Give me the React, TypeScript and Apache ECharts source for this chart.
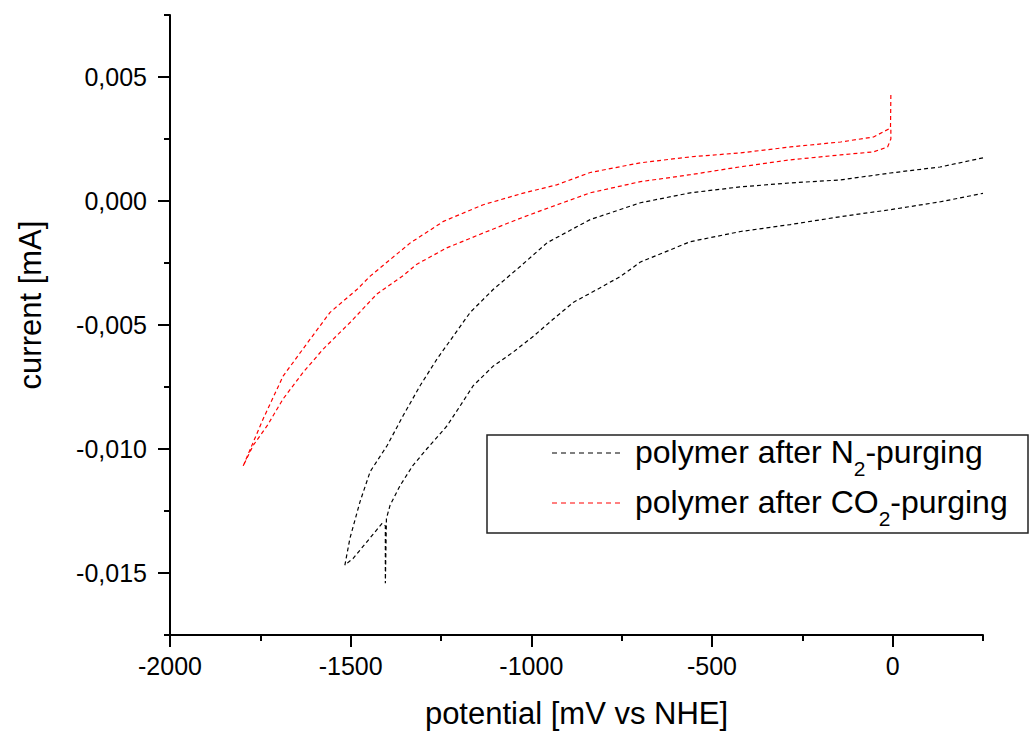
import React, { useEffect, useRef } from "react";
import * as echarts from "echarts";

const FONT = "'Liberation Sans', Arial, Helvetica, sans-serif";

// Axis ticks / label steps
const xMajorTicks = [-2000, -1500, -1000, -500, 0];
const yMajorTicks = [-0.015, -0.01, -0.005, 0, 0.005];
const xLabelStep = 500;
const yLabelStep = 0.005;

// Series names
const n2Name = "polymer after N2-purging";
const co2Name = "polymer after CO2-purging";

// Legend texts (main text / subscript / main text)
const n2LegendParts = ["polymer after N", "2", "-purging"];
const co2LegendParts = ["polymer after CO", "2", "-purging"];

// N2-purged polymer (black): potential [mV vs NHE], current [mA]
const n2Potential = [
  250, 131, -6, -144, -283, -421, -560, -698, -837, -873, -956, -1030, -1105,
  -1169, -1216, -1261, -1308, -1355, -1399, -1446, -1474, -1502, -1516,
  -1493, -1413, -1404, -1404, -1401,
  -1391, -1363, -1328, -1289, -1233, -1197, -1161, -1105, -1050, -994, -939,
  -883, -817, -753, -698, -560, -421, -283, -144, -6, 133, 250,
];
const n2Current = [
  0.00174, 0.00137, 0.00113, 0.00085, 0.00073, 0.00057, 0.00033, -0.00007,
  -0.00075, -0.00103, -0.00168, -0.00263, -0.00356, -0.00449, -0.00545,
  -0.00637, -0.00745, -0.00866, -0.00986, -0.01091, -0.01212, -0.0136,
  -0.01468,
  -0.01441, -0.013, -0.0131, -0.01541, -0.0128,
  -0.01227, -0.01147, -0.01067, -0.00999, -0.00906, -0.00826, -0.00745,
  -0.00665, -0.00609, -0.00545, -0.00476, -0.00408, -0.00356, -0.00304,
  -0.00246, -0.00164, -0.00123, -0.00095, -0.00063, -0.00035, -0.00003,
  0.00031,
];

// CO2-purged polymer (red)
const co2Potential = [
  -5, -6, -53, -144, -283, -421, -560, -698, -837, -930, -1022, -1133, -1243,
  -1335, -1446, -1482, -1557, -1612, -1687, -1742, -1798,
  -1770, -1731, -1687, -1631, -1576, -1501, -1428, -1354, -1318, -1234, -1133,
  -1040, -981, -837, -698, -560, -421, -283, -144, -53, -14, -5, -5,
];
const co2Current = [
  0.00427, 0.00294, 0.00258, 0.00238, 0.00218, 0.00194, 0.00178, 0.00154,
  0.00115, 0.00065, 0.00032, -0.00015, -0.00082, -0.00169, -0.00303,
  -0.00356, -0.00449, -0.00557, -0.00706, -0.00878, -0.0107,
  -0.00986, -0.00906, -0.00798, -0.0069, -0.00597, -0.00489, -0.00376,
  -0.003, -0.00256, -0.00189, -0.00129, -0.00075, -0.00043, 0.00033, 0.00078,
  0.00106, 0.00138, 0.00166, 0.00186, 0.00198, 0.00218, 0.0025, 0.00294,
];

const zip = (xs: number[], ys: number[]) => xs.map((x, i) => [x, ys[i]]);
const isStep = (v: number, step: number) =>
  Math.abs(v / step - Math.round(v / step)) < 1e-4;

export default function App() {
  const ref = useRef<HTMLDivElement>(null);

  useEffect(() => {
    if (!ref.current) return;
    document.body.style.margin = "0";
    const chart = echarts.init(ref.current, undefined, { renderer: "svg" });

    const ctx = document.createElement("canvas").getContext("2d");
    const measure = (t: string, size: number) => {
      if (!ctx) return t.length * size * 0.55;
      ctx.font = `${size}px "Liberation Sans", Arial, sans-serif`;
      return ctx.measureText(t).width;
    };

    // Legend layout (graphic)
    const boxX = 487;
    const boxY = 435;
    const boxW = 541;
    const boxH = 98;
    const sampleX1 = 552;
    const sampleX2 = 622;
    const textX = 635;
    const mainSize = 32;
    const subSize = 21;
    const rows = [
      { parts: n2LegendParts, color: "#000000", y: 452 },
      { parts: co2LegendParts, color: "#ff0000", y: 502 },
    ];
    const legendChildren: any[] = [
      {
        type: "rect",
        shape: { x: boxX, y: boxY, width: boxW, height: boxH },
        style: { fill: "#fff", stroke: "#222", lineWidth: 1.5 },
      },
    ];
    rows.forEach((row) => {
      legendChildren.push({
        type: "line",
        shape: { x1: sampleX1, y1: row.y + 1, x2: sampleX2, y2: row.y + 1 },
        style: { stroke: row.color, lineWidth: 1.2, lineDash: [5, 4] },
      });
      let x = textX;
      row.parts.forEach((t, i) => {
        const isSub = i === 1;
        const size = isSub ? subSize : mainSize;
        legendChildren.push({
          type: "text",
          x,
          y: isSub ? row.y + 16 : row.y,
          style: {
            text: t,
            fontSize: size,
            fontFamily: FONT,
            fill: "#000",
            align: "left",
            verticalAlign: "middle",
            textAlign: "left",
            textVerticalAlign: "middle",
          },
        });
        x += measure(t, size);
      });
    });

    const mkAxisLine = () => ({
      show: true,
      onZero: false,
      lineStyle: { color: "#000", width: 2 },
    });
    const mkTick = (len: number) => ({
      show: true,
      inside: false,
      length: len,
      lineStyle: { color: "#000", width: 2 },
    });

    chart.setOption({
      animation: false,
      backgroundColor: "#fff",
      grid: { left: 170, right: 49, top: 15, bottom: 97, containLabel: false },
      xAxis: {
        type: "value",
        min: -2000,
        max: 250.01,
        interval: 500,
        name: "potential [mV vs NHE]",
        nameLocation: "middle",
        nameGap: 63,
        nameTextStyle: { fontFamily: FONT, fontSize: 31, color: "#000" },
        axisLine: mkAxisLine(),
        splitLine: { show: false },
        minorSplitLine: { show: false },
        axisTick: { ...mkTick(12), customValues: xMajorTicks },
        minorTick: { ...mkTick(6), splitNumber: 2 },
        axisLabel: {
          margin: 18,
          fontFamily: FONT,
          fontSize: 25,
          color: "#000",
          showMaxLabel: false,
          formatter: (v: number) =>
            isStep(v, xLabelStep) ? String(Math.round(v)) : "",
        },
      },
      yAxis: {
        type: "value",
        min: -0.01750001,
        max: 0.00750001,
        splitNumber: 5,
        name: "current [mA]",
        nameLocation: "middle",
        nameGap: 124,
        nameTextStyle: {
          fontFamily: FONT,
          fontSize: 31,
          color: "#000",
          padding: [0, 0, 0, 40],
        },
        axisLine: mkAxisLine(),
        splitLine: { show: false },
        minorSplitLine: { show: false },
        axisTick: { ...mkTick(12), customValues: yMajorTicks },
        minorTick: { ...mkTick(6), splitNumber: 2 },
        axisLabel: {
          margin: 23,
          fontFamily: FONT,
          fontSize: 25,
          color: "#000",
          showMinLabel: false,
          showMaxLabel: false,
          formatter: (v: number) => {
            if (!isStep(v, yLabelStep)) return "";
            const s = (Math.abs(v) < 1e-9 ? 0 : v).toFixed(3);
            return s.replace(".", ",");
          },
        },
      },
      graphic: [{ type: "group", z: 100, children: legendChildren }],
      series: [
        {
          name: n2Name,
          type: "line",
          color: "#000",
          data: zip(n2Potential, n2Current),
          symbol: "none",
          showSymbol: false,
          smooth: false,
          lineStyle: { color: "#000", width: 1.2, type: [4, 3] },
          itemStyle: { color: "#000" },
        },
        {
          name: co2Name,
          type: "line",
          color: "#ff0000",
          data: zip(co2Potential, co2Current),
          symbol: "none",
          showSymbol: false,
          smooth: false,
          lineStyle: { color: "#ff0000", width: 1.2, type: [4, 3] },
          itemStyle: { color: "#ff0000" },
        },
      ],
    });

    return () => chart.dispose();
  }, []);

  return (
    <div
      ref={ref}
      style={{ position: "absolute", left: 0, top: 0, width: 1032, height: 734 }}
    />
  );
}
